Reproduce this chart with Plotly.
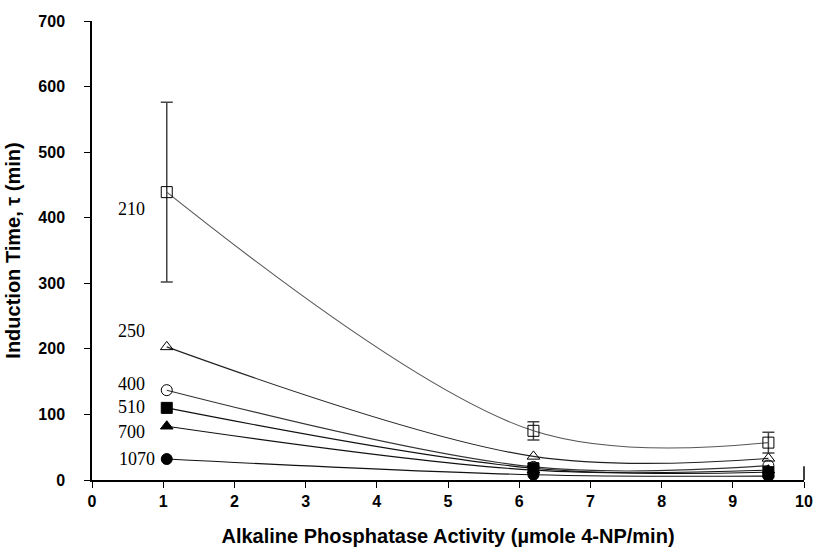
import plotly.graph_objects as go

# Data
activity = [1.05, 6.2, 9.5]
series_names = ["210", "250", "400", "510", "700", "1070"]
tau_210 = [439, 75, 57]
err_210 = [137, 14, 16]
tau_250 = [203, 36, 33]
tau_400 = [137, 20, 22]
tau_510 = [110, 18, 12]
tau_700 = [82, 15, 15]
tau_1070 = [32, 8, 6]

x_ticks = list(range(0, 11))
y_ticks = list(range(0, 701, 100))

# styles
series = [
    (tau_210, "square-open", "#555555", err_210),
    (tau_250, "triangle-up-open", "#222222", None),
    (tau_400, "circle-open", "#333333", None),
    (tau_510, "square", "#111111", None),
    (tau_700, "triangle-up", "#111111", None),
    (tau_1070, "circle", "#111111", None),
]
label_pos = [(0.77, 413), (0.77, 227), (0.77, 146), (0.77, 111), (0.77, 73), (0.91, 32)]

fig = go.Figure()
for (vals, sym, col, err), name in zip(series, series_names):
    tr = dict(
        x=activity, y=vals, mode="lines+markers", name=name,
        line=dict(color=col, width=1.1, shape="spline", smoothing=1.0),
        marker=dict(symbol=sym, size=11, color="black",
                    line=dict(color="black", width=1)),
        showlegend=False,
    )
    if err is not None:
        tr["error_y"] = dict(type="data", array=err, visible=True, color="#444444",
                             thickness=1.5, width=6)
    fig.add_trace(go.Scatter(**tr))

for name, (lx, ly) in zip(series_names, label_pos):
    fig.add_annotation(x=lx, y=ly, xref="x", yref="y", text=name, showarrow=False,
                       xanchor="right", yanchor="middle",
                       font=dict(family="Liberation Serif", size=18, color="black"))

tick_font = dict(family="Liberation Sans", size=16, color="black", weight="bold")
title_font = dict(family="Liberation Sans", size=20, color="black", weight="bold")
fig.update_layout(
    width=825, height=558,
    margin=dict(l=90, r=14, t=21, b=78),
    plot_bgcolor="white", paper_bgcolor="white",
    xaxis=dict(range=[0, 10], tickvals=x_ticks, ticks="outside", ticklen=6,
               tickcolor="black", showgrid=False, zeroline=False,
               showline=True, linecolor="black", linewidth=1.5,
               tickfont=tick_font,
               title=dict(text="Alkaline Phosphatase Activity (µmole 4-NP/min)",
                          font=title_font, standoff=20)),
    yaxis=dict(range=[0, 700], tickvals=y_ticks, ticks="outside", ticklen=6,
               tickcolor="black", showgrid=False, zeroline=False,
               showline=True, linecolor="black", linewidth=1.5,
               tickfont=tick_font, ticklabelstandoff=16,
               title=dict(text="Induction Time, τ (min)",
                          font=title_font, standoff=12)),
)
fig.add_shape(type="line", xref="paper", yref="paper", x0=1, x1=1, y0=0, y1=0.03,
              line=dict(color="black", width=1.5))
fig.write_html("out.html")
